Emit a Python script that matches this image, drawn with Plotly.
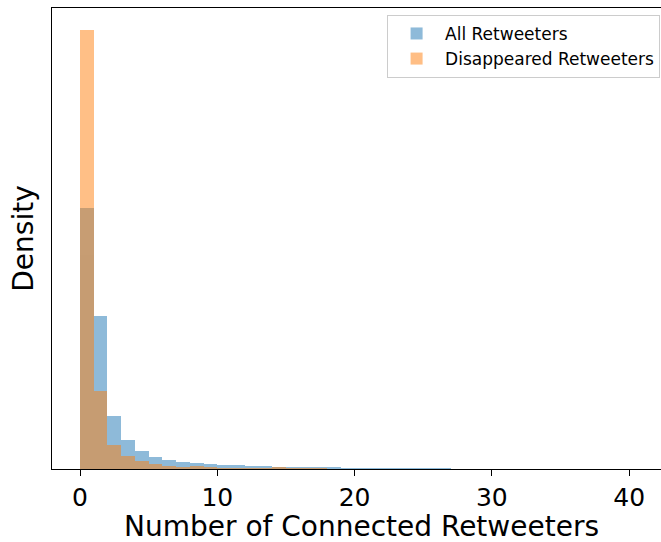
import plotly.graph_objects as go

# Histogram bins: unit-width bins starting at 0
bin_width = 1.0
all_density = [0.4456, 0.2608, 0.0898, 0.0501, 0.0311, 0.0207, 0.0155, 0.0121,
               0.0104, 0.0086, 0.0069, 0.0069, 0.0052, 0.0052, 0.0035, 0.0035,
               0.0035, 0.0035, 0.0035, 0.0017, 0.0017, 0.0017, 0.0017, 0.0017,
               0.0017, 0.0017, 0.0017]
disappeared_density = [0.7490, 0.1330, 0.0410, 0.0227, 0.0131, 0.0085, 0.0051,
                       0.0034, 0.0051, 0.0034, 0.0017, 0.0017, 0.0017, 0.0017,
                       0.0034, 0.0017, 0.0017, 0.0017]
x_ticks = [0, 10, 20, 30, 40]
x_title = "Number of Connected Retweeters"

all_centers = [i * bin_width + bin_width / 2 for i in range(len(all_density))]
dis_centers = [i * bin_width + bin_width / 2 for i in range(len(disappeared_density))]

fig = go.Figure()
fig.add_trace(go.Bar(
    x=all_centers, y=all_density, width=bin_width,
    name="All Retweeters",
    marker=dict(color="#1f77b4", line=dict(width=0)), opacity=0.5,
))
fig.add_trace(go.Bar(
    x=dis_centers, y=disappeared_density, width=bin_width,
    name="Disappeared Retweeters",
    marker=dict(color="#ff7f0e", line=dict(width=0)), opacity=0.5,
))

ymax = max(disappeared_density) * 1.05

# x-axis title placed below the tick labels, centred on the full axes box
fig.add_annotation(
    text=x_title, xref="paper", yref="paper",
    x=0.5075, y=-0.1258, xanchor="center", yanchor="middle",
    showarrow=False, font=dict(size=28, family="DejaVu Sans", color="black"),
)

fig.update_layout(
    width=661, height=542,
    margin=dict(l=52, r=0, t=8, b=73),
    barmode="overlay",
    bargap=0,
    plot_bgcolor="white",
    paper_bgcolor="white",
    font=dict(family="DejaVu Sans", color="black"),
    legend=dict(
        x=0.9985, y=0.985, xanchor="right", yanchor="top",
        bordercolor="#cccccc", borderwidth=1, bgcolor="rgba(255,255,255,0.8)",
        font=dict(size=17), itemsizing="constant", itemwidth=47, tracegroupgap=0,
    ),
    xaxis=dict(
        range=[-2.04, 42.32],
        tickvals=x_ticks,
        ticks="outside", ticklen=6, tickwidth=1.2, tickcolor="black",
        tickfont=dict(size=25),
        showline=True, linecolor="black", linewidth=1.2, mirror=True,
        showgrid=False, zeroline=False,
    ),
    yaxis=dict(
        range=[0, ymax],
        showticklabels=False, ticks="",
        showline=True, linecolor="black", linewidth=1.2, mirror=False,
        showgrid=False, zeroline=False,
        title=dict(text="Density", font=dict(size=28), standoff=9),
    ),
)

fig.write_html("out.html")
